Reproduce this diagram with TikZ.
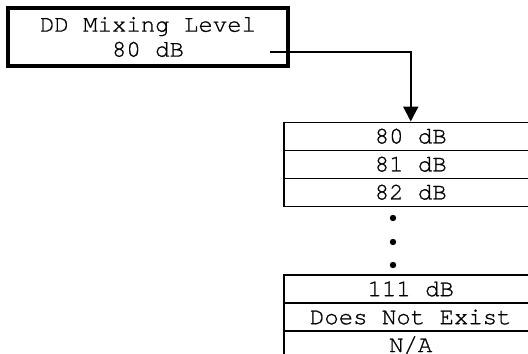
\documentclass[tikz,border=0pt]{standalone}
\usepackage{fontspec}
\setmonofont[FakeBold=0.8]{TeX Gyre Cursor}
\usepackage{tikz}
\usetikzlibrary{arrows.meta}
\tikzset{
  menunode/.style={rectangle,draw=black,line width=2pt,minimum width=140pt,minimum height=29pt,inner sep=0pt,align=center},
  rownode/.style={rectangle,draw=black,line width=0.75pt,minimum width=127pt,minimum height=14pt,inner sep=0pt,anchor=north west},
  dotnode/.style={circle,fill=black,minimum size=3.2pt,inner sep=0pt},
  selarrow/.style={-{Triangle[length=7.5pt,width=7.5pt]},line width=1pt,draw=black}
}

\begin{document}
\begin{tikzpicture}[x=0.5pt,y=-0.5pt,font=\ttfamily\fontsize{12}{12.5}\selectfont]
  \path[use as bounding box,fill=white] (0,0) rectangle (528,353);
  \clip (0,0) rectangle (528,353);
  \node[menunode] (mix) at (148,37) {DD Mixing Level\\80 dB};
  \coordinate (tap) at (270,52);
  \node[rownode] (r80) at (283,121.5) {80 dB};
  \node[rownode] (r81) at (283,149.5) {81 dB};
  \node[rownode] (r82) at (283,177.5) {82 dB};
  \node[dotnode] (dot1) at (393,218) {};
  \node[dotnode] (dot2) at (393,242) {};
  \node[dotnode] (dot3) at (393,265) {};
  \node[rownode] (r111) at (283,274.3) {111 dB};
  \node[rownode] (rdne) at (283,302.3) {Does Not Exist};
  \node[rownode] (rna) at (283,330.3) {N/A};
  \draw[selarrow] (tap) -| (r80.north);
\end{tikzpicture}
\end{document}
